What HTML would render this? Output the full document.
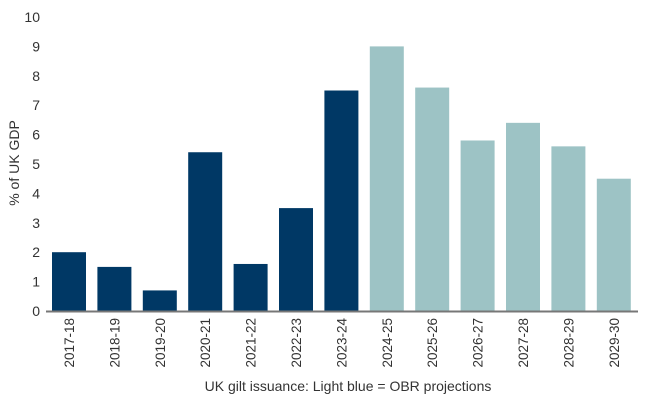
<!DOCTYPE html>
<html><head><meta charset="utf-8"><style>
body{margin:0;background:#fff;}
svg text{font-family:"Liberation Sans",sans-serif;fill:#333;}
</style></head><body>
<svg id="chart" width="650" height="400">
<g id="yaxis"></g>
<g id="bars"></g>
<g id="xaxis"></g>
<text x="19" y="163" font-size="14" text-anchor="middle" transform="rotate(-90 19 163)">% of UK GDP</text>
<text x="348" y="391" font-size="14" text-anchor="middle">UK gilt issuance: Light blue = OBR projections</text>
</svg>
<script>
const categories=["2017-18","2018-19","2019-20","2020-21","2021-22","2022-23","2023-24","2024-25","2025-26","2026-27","2027-28","2028-29","2029-30"];
const values=[2.0,1.5,0.7,5.4,1.6,3.5,7.5,9.0,7.6,5.8,6.4,5.6,4.5];
const projected=[false,false,false,false,false,false,false,true,true,true,true,true,true];
const yTicks=[0,1,2,3,4,5,6,7,8,9,10];
const NS="http://www.w3.org/2000/svg";
const x0=46,step=45.4,bw=34,yZero=311,yTop=17,yMax=10;
const y=v=>yZero-(v/yMax)*(yZero-yTop);
const xb=i=>x0+6+i*step;
function mk(t,a,p){const e=document.createElementNS(NS,t);for(const k in a)e.setAttribute(k,a[k]);p.appendChild(e);return e;}
const ya=document.getElementById('yaxis'),ba=document.getElementById('bars'),xa=document.getElementById('xaxis');
yTicks.forEach(t=>{const e=mk('text',{x:40,y:y(t)+5,'font-size':14,'text-anchor':'end'},ya);e.textContent=t;

});
values.forEach((v,i)=>{const r=mk('rect',{x:xb(i),y:y(v),width:bw,height:yZero-y(v),fill:projected[i]?'#9dc3c5':'#003865'},ba);


const cx=xb(i)+bw/2+5;const tx=mk('text',{x:cx,y:318,'font-size':13.5,'text-anchor':'end',transform:`rotate(-90 ${cx} 318)`},xa);tx.textContent=categories[i];

});
const ax=mk('line',{x1:x0,x2:638,y1:yZero+0.5,y2:yZero+0.5,stroke:'#777','stroke-width':2},xa);


</script>
</body></html>
